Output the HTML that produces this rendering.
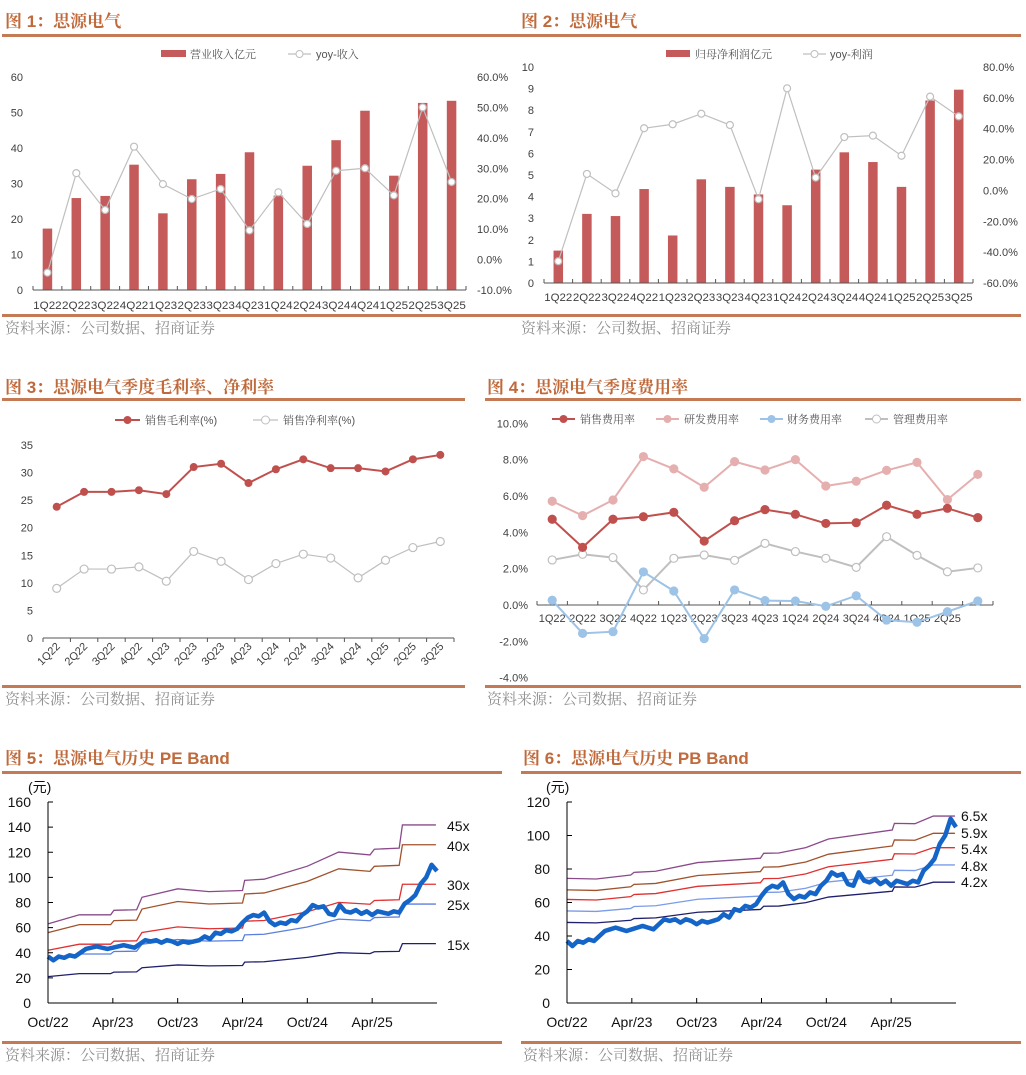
<!DOCTYPE html>
<html><head><meta charset="utf-8">
<style>
html,body{margin:0;padding:0;background:#fff;}
svg{display:block;}
.t{font-family:"Liberation Sans","Noto Serif CJK SC",serif;font-weight:bold;font-size:17px;fill:#C0693B;}
.src{font-family:"Liberation Sans","Noto Serif CJK SC",serif;font-size:15px;fill:#8f8f8f;}
.ax{font-family:"Liberation Sans",sans-serif;font-size:11px;fill:#404040;}
.lg{font-family:"Liberation Sans","Noto Serif CJK SC",serif;font-size:11px;fill:#555;}
.big{font-family:"Liberation Sans","Noto Sans CJK SC",sans-serif;font-size:14px;fill:#111;}
</style></head><body>
<svg id="root" width="1026" height="1075" viewBox="0 0 1026 1075" xmlns="http://www.w3.org/2000/svg">
<rect x="0" y="0" width="1026" height="1075" fill="#fff"/>
<text class="t" x="5" y="27">图 1：思源电气</text>
<text class="t" x="521" y="27">图 2：思源电气</text>
<text class="t" x="5" y="393">图 3：思源电气季度毛利率、净利率</text>
<text class="t" x="487" y="393">图 4：思源电气季度费用率</text>
<text class="t" x="5" y="764">图 5：思源电气历史 PE Band</text>
<text class="t" x="523" y="764">图 6：思源电气历史 PB Band</text>
<g fill="#C47A55">
<rect x="2" y="34" width="511" height="3"/>
<rect x="513" y="34" width="508" height="3"/>
<rect x="2" y="314" width="511" height="3"/>
<rect x="513" y="314" width="508" height="3"/>
<rect x="2" y="398" width="463" height="3"/>
<rect x="485" y="398" width="536" height="3"/>
<rect x="2" y="685" width="463" height="3"/>
<rect x="485" y="685" width="536" height="3"/>
<rect x="2" y="771" width="500" height="3"/>
<rect x="521" y="771" width="500" height="3"/>
<rect x="2" y="1041" width="500" height="3"/>
<rect x="521" y="1041" width="500" height="3"/>
</g>
<text class="src" x="5" y="333">资料来源：公司数据、招商证券</text>
<text class="src" x="521" y="333">资料来源：公司数据、招商证券</text>
<text class="src" x="5" y="704">资料来源：公司数据、招商证券</text>
<text class="src" x="487" y="704">资料来源：公司数据、招商证券</text>
<text class="src" x="5" y="1060">资料来源：公司数据、招商证券</text>
<text class="src" x="523" y="1060">资料来源：公司数据、招商证券</text>
<g>
<rect x="161" y="50" width="25" height="7" fill="#C55A5A"/>
<text class="lg" x="190" y="58">营业收入亿元</text>
<line x1="288" y1="54" x2="311" y2="54" stroke="#BFBFBF" stroke-width="1.2"/>
<circle cx="299.5" cy="54" r="3.5" fill="#fff" stroke="#BFBFBF"/>
<text class="lg" x="316" y="58">yoy-收入</text>
</g>
<g>
<rect x="666" y="50" width="24" height="7" fill="#C55A5A"/>
<text class="lg" x="695" y="58">归母净利润亿元</text>
<line x1="803" y1="54" x2="826" y2="54" stroke="#BFBFBF" stroke-width="1.2"/>
<circle cx="814.5" cy="54" r="3.5" fill="#fff" stroke="#BFBFBF"/>
<text class="lg" x="830" y="58">yoy-利润</text>
</g>
<g>
<line x1="115" y1="420" x2="140" y2="420" stroke="#C0504D" stroke-width="2"/>
<circle cx="127.5" cy="420" r="4" fill="#C0504D"/>
<text class="lg" x="145" y="424">销售毛利率(%)</text>
<line x1="253" y1="420" x2="278" y2="420" stroke="#BFBFBF" stroke-width="1.2"/>
<circle cx="265.5" cy="420" r="4" fill="#fff" stroke="#BFBFBF"/>
<text class="lg" x="283" y="424">销售净利率(%)</text>
</g>
<g>
<line x1="552" y1="419" x2="575" y2="419" stroke="#C0504D" stroke-width="2"/><circle cx="563.5" cy="419" r="4" fill="#C0504D"/>
<text class="lg" x="580" y="423">销售费用率</text>
<line x1="656" y1="419" x2="679" y2="419" stroke="#E6AFAF" stroke-width="2"/><circle cx="667.5" cy="419" r="4" fill="#E6AFAF"/>
<text class="lg" x="684" y="423">研发费用率</text>
<line x1="760" y1="419" x2="783" y2="419" stroke="#9DC3E6" stroke-width="2"/><circle cx="771.5" cy="419" r="4" fill="#9DC3E6"/>
<text class="lg" x="787" y="423">财务费用率</text>
<line x1="865" y1="419" x2="888" y2="419" stroke="#BFBFBF" stroke-width="2"/><circle cx="876.5" cy="419" r="4" fill="#fff" stroke="#BFBFBF"/>
<text class="lg" x="893" y="423">管理费用率</text>
</g>
<text class="big" x="28" y="792">(元)</text>
<text class="big" x="546" y="792">(元)</text>
<g id="dyn"></g>
</svg>
<script>
const qCats = ['1Q22','2Q22','3Q22','4Q22','1Q23','2Q23','3Q23','4Q23','1Q24','2Q24','3Q24','4Q24','1Q25','2Q25','3Q25'];
const revenue = [17.3,25.9,26.5,35.3,21.6,31.2,32.7,38.8,26.6,35.0,42.2,50.5,32.2,52.7,53.3];
const revenueYoy = [-4.3,28.4,16.3,37.1,24.8,19.9,23.2,9.6,22.1,11.7,29.2,30.0,21.1,50.0,25.5];
const profit = [1.5,3.2,3.1,4.35,2.2,4.8,4.45,4.1,3.6,5.25,6.05,5.6,4.45,8.45,8.95];
const profitYoy = [-45.9,10.7,-1.9,40.3,42.9,49.7,42.4,-5.7,66.2,8.3,34.6,35.5,22.5,60.8,48.0];
const grossMargin = [23.8,26.5,26.5,26.8,26.1,31.0,31.6,28.1,30.6,32.4,30.8,30.8,30.2,32.4,33.2];
const netMargin = [9.0,12.5,12.5,12.9,10.3,15.7,13.9,10.6,13.5,15.2,14.5,10.9,14.1,16.4,17.5];
const feeCats = ['1Q22','2Q22','3Q22','4Q22','1Q23','2Q23','3Q23','4Q23','1Q24','2Q24','3Q24','4Q24','1Q25','2Q25',''];
const salesRate = [4.72,3.17,4.72,4.86,5.10,3.52,4.64,5.25,4.99,4.49,4.53,5.49,4.99,5.32,4.81];
const rdRate = [5.71,4.92,5.78,8.17,7.49,6.48,7.89,7.43,8.0,6.55,6.81,7.41,7.85,5.80,7.19];
const finRate = [0.26,-1.56,-1.47,1.82,0.77,-1.85,0.83,0.24,0.22,-0.07,0.51,-0.83,-0.95,-0.37,0.22];
const adminRate = [2.48,2.79,2.61,0.83,2.57,2.75,2.46,3.39,2.94,2.57,2.07,3.76,2.73,1.83,2.04];
const dateTicks = ['Oct/22','Apr/23','Oct/23','Apr/24','Oct/24','Apr/25'];
const dateTickMonths = [0,6,12,18,24,30];
const price = [37,34,37,36,38,37,40,43,44,45,44,43,44,45,46,45,44,47,50,49,50,48,50,49,47,49,48,49,50,53,51,56,55,58,57,59,64,68,70,69,72,65,62,64,63,66,65,70,73,78,76,77,71,70,78,73,72,74,71,73,70,73,72,71,73,72,79,82,86,95,100,110,105];
const peMultiples = [15,25,30,40,45];
const peLabels = ['15x','25x','30x','40x','45x'];
const peMonths = [0,2.9,5.8,6.1,8.2,8.7,12,14.9,18,18.2,20,24,26.9,29.8,30.2,32.5,32.8,35.9];
const peEps = [1.40,1.56,1.56,1.64,1.65,1.87,2.02,1.97,1.99,2.17,2.19,2.42,2.67,2.62,2.72,2.74,3.15,3.15];
const pbMultiples = [4.2,4.8,5.4,5.9,6.5];
const pbLabels = ['4.2x','4.8x','5.4x','5.9x','6.5x'];
const pbMonths = [0,2.7,5.9,6.2,8.2,12.1,17.9,18.2,19.6,22.1,24.2,30.1,30.3,32.2,33.9,35.9];
const pbBvps = [11.45,11.39,11.76,12.0,12.1,12.9,13.3,13.75,13.78,14.27,15.06,15.89,16.5,16.47,17.17,17.17];

const NS='http://www.w3.org/2000/svg';
const root=document.getElementById('dyn');
function mk(tag,attrs,parent){const e=document.createElementNS(NS,tag);for(const k in attrs)e.setAttribute(k,attrs[k]);(parent||root).appendChild(e);return e;}
function txt(s,attrs,cls,parent){const e=mk('text',attrs,parent);e.setAttribute('class',cls);e.textContent=s;return e;}

(function(){
  const g=mk('g',{});
  
  
  const x0=33,x1=466,yb=290,yt=77,n=qCats.length,bw=(x1-x0)/n;
  const xs=i=>x0+(i+0.5)*bw, yl=v=>yb-v/60*(yb-yt), yr=p=>yb-(p+10)/70*(yb-yt);
  for(let v=0;v<=60;v+=10){const t=txt(String(v),{x:23,y:yl(v)+4,'text-anchor':'end'},'ax',g);}
  for(let p=-10;p<=60;p+=10){const t=txt(p.toFixed(1)+'%',{x:477,y:yr(p)+4},'ax',g);}
  revenue.forEach((v,i)=>{const r=mk('rect',{x:xs(i)-4.75,y:yl(v),width:9.5,height:yb-yl(v),fill:'#C55A5A'},g);
    
    });
  mk('line',{x1:x0,y1:yb,x2:x1,y2:yb,stroke:'#555','stroke-width':1},g);
  for(let i=0;i<=n;i++)mk('line',{x1:x0+i*bw,y1:yb-4,x2:x0+i*bw,y2:yb,stroke:'#555'},g);
  qCats.forEach((c,i)=>{const t=txt(c,{x:xs(i),y:309,'text-anchor':'middle','textLength':28.5,'lengthAdjust':'spacingAndGlyphs'},'ax',g);});
  const pl=mk('polyline',{points:revenueYoy.map((p,i)=>xs(i)+','+yr(p)).join(' '),fill:'none',stroke:'#BFBFBF','stroke-width':1.2},g);
  
  
  revenueYoy.forEach((p,i)=>{const c=mk('circle',{cx:xs(i),cy:yr(p),r:3.5,fill:'#fff',stroke:'#BFBFBF','stroke-width':1.2},g);
    
    });
})();

(function(){
  const g=mk('g',{});
  
  
  const x0=544,x1=973,yb=283,yt=67,n=qCats.length,bw=(x1-x0)/n;
  const xs=i=>x0+(i+0.5)*bw, yl=v=>yb-v/10*(yb-yt), yr=p=>yb-(p+60)/140*(yb-yt);
  for(let v=0;v<=10;v++){const t=txt(String(v),{x:534,y:yl(v)+4,'text-anchor':'end'},'ax',g);}
  for(let p=-60;p<=80;p+=20){const t=txt(p.toFixed(1)+'%',{x:983,y:yr(p)+4},'ax',g);}
  profit.forEach((v,i)=>{const r=mk('rect',{x:xs(i)-4.75,y:yl(v),width:9.5,height:yb-yl(v),fill:'#C55A5A'},g);
    
    });
  mk('line',{x1:x0,y1:yb,x2:x1,y2:yb,stroke:'#555'},g);
  for(let i=0;i<=n;i++)mk('line',{x1:x0+i*bw,y1:yb-4,x2:x0+i*bw,y2:yb,stroke:'#555'},g);
  qCats.forEach((c,i)=>{const t=txt(c,{x:xs(i),y:301,'text-anchor':'middle','textLength':28,'lengthAdjust':'spacingAndGlyphs'},'ax',g);});
  const pl=mk('polyline',{points:profitYoy.map((p,i)=>xs(i)+','+yr(p)).join(' '),fill:'none',stroke:'#BFBFBF','stroke-width':1.2},g);
  
  
  profitYoy.forEach((p,i)=>{const c=mk('circle',{cx:xs(i),cy:yr(p),r:3.5,fill:'#fff',stroke:'#BFBFBF','stroke-width':1.2},g);
    
    });
})();

(function(){
  const g=mk('g',{});
  
  
  const x0=43,x1=454,yb=638,yt=445,n=qCats.length,bw=(x1-x0)/n;
  const xs=i=>x0+(i+0.5)*bw, y=v=>yb-v/35*(yb-yt);
  for(let v=0;v<=35;v+=5){const t=txt(String(v),{x:33,y:y(v)+4,'text-anchor':'end'},'ax',g);}
  mk('line',{x1:x0,y1:yb,x2:x1,y2:yb,stroke:'#555'},g);
  for(let i=0;i<=n;i++)mk('line',{x1:x0+i*bw,y1:yb,x2:x0+i*bw,y2:yb+4,stroke:'#555'},g);
  qCats.forEach((c,i)=>{const t=txt(c,{x:xs(i)+4,y:647,'text-anchor':'end',transform:'rotate(-45 '+(xs(i)+4)+' 647)'},'ax',g);});
  const l1=mk('polyline',{points:grossMargin.map((v,i)=>xs(i)+','+y(v)).join(' '),fill:'none',stroke:'#C0504D','stroke-width':2},g);
  
  
  grossMargin.forEach((v,i)=>{const c=mk('circle',{cx:xs(i),cy:y(v),r:4,fill:'#C0504D'},g);
    
    });
  const l2=mk('polyline',{points:netMargin.map((v,i)=>xs(i)+','+y(v)).join(' '),fill:'none',stroke:'#BFBFBF','stroke-width':1.2},g);
  
  
  netMargin.forEach((v,i)=>{const c=mk('circle',{cx:xs(i),cy:y(v),r:4,fill:'#fff',stroke:'#BFBFBF','stroke-width':1.2},g);
    
    });
})();

(function(){
  const g=mk('g',{});
  
  
  const x0=537,x1=993,n=feeCats.length,bw=(x1-x0)/n;
  const xs=i=>x0+(i+0.5)*bw, y=v=>605-v*18.17;
  for(let v=-4;v<=10;v+=2){const t=txt(v.toFixed(1)+'%',{x:528,y:y(v)+4,'text-anchor':'end'},'ax',g);}
  mk('line',{x1:x0,y1:605,x2:x1,y2:605,stroke:'#555'},g);
  for(let i=0;i<=n;i++)mk('line',{x1:x0+i*bw,y1:601,x2:x0+i*bw,y2:605,stroke:'#555'},g);
  feeCats.forEach((c,i)=>{const t=txt(c,{x:xs(i),y:622,'text-anchor':'middle'},'ax',g);});
  function series(arr,color,hollow,name){
    const l=mk('polyline',{points:arr.map((v,i)=>xs(i)+','+y(v)).join(' '),fill:'none',stroke:color,'stroke-width':2},g);
    
    
    arr.forEach((v,i)=>{const c=mk('circle',{cx:xs(i),cy:y(v),r:4,fill:hollow?'#fff':color,stroke:color,'stroke-width':1.2},g);
      
      });
  }
  series(adminRate,'#BFBFBF',true,'admin-rate');
  series(finRate,'#9DC3E6',false,'finance-rate');
  series(rdRate,'#E6AFAF',false,'rd-rate');
  series(salesRate,'#C0504D',false,'sales-rate');
})();

function bandChart(opt){
  const g=mk('g',{});
  
  
  const x0=opt.x0,x1=x0+389,yb=1003,yt=802;
  const xs=m=>x0+m*389/36, y=v=>yb-v/opt.max*(yb-yt);
  for(let v=0;v<=opt.max;v+=20){
    const t=txt(String(v),{x:opt.labX,y:y(v)+5,'text-anchor':'end'},'big',g);
    
    
    mk('line',{x1:x0,y1:y(v),x2:x0+5,y2:y(v),stroke:'#000'},g);
  }
  dateTicks.forEach((d,i)=>{
    const xx=xs(dateTickMonths[i]);
    mk('line',{x1:xx,y1:yb,x2:xx,y2:yb-5,stroke:'#000'},g);
    const t=txt(d,{x:xx,y:1027,'text-anchor':'middle'},'big',g);
    
    
  });
  opt.mults.forEach((m,k)=>{
    const pts=opt.months.map((t,i)=>xs(t)+','+y(opt.base[i]*m)).join(' ');
    const l=mk('polyline',{points:pts,fill:'none',stroke:opt.colors[k],'stroke-width':1.3},g);
    
    
  });
  const pp=mk('polyline',{points:price.map((v,i)=>xs(i*0.5)+','+y(v)).join(' '),fill:'none',stroke:'#1565C8','stroke-width':4.5,'stroke-linejoin':'round'},g);
  
  
  mk('line',{x1:x0,y1:yt,x2:x0,y2:yb,stroke:'#000'},g);
  mk('line',{x1:x0,y1:yb,x2:x1,y2:yb,stroke:'#000'},g);
  opt.labels.forEach((s,k)=>{
    const t=txt(s,{x:opt.bandLabX,y:opt.bandLabY[k]+5},'big',g);
    
    
  });
}
bandChart({name:'pe-band-chart',x0:48,max:160,labX:31,months:peMonths,base:peEps,mults:peMultiples,labels:peLabels,
  colors:['#1F1F6F','#5B7FE0','#E03030','#A0522D','#8A4A8A'],bandLabX:447,bandLabY:[945,905,885,846,826]});
bandChart({name:'pb-band-chart',x0:567,max:120,labX:550,months:pbMonths,base:pbBvps,mults:pbMultiples,labels:pbLabels,
  colors:['#1F1F6F','#7C9BE8','#E03030','#A0522D','#8A4A8A'],bandLabX:961,bandLabY:[882,866,849,833,816]});
</script>
</body></html>
